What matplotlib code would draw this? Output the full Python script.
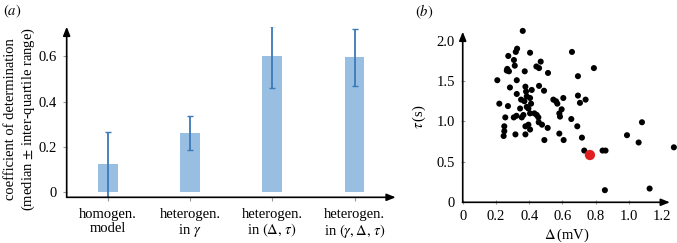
import matplotlib
matplotlib.use("Agg")
import matplotlib.pyplot as plt



MODELS=["homogen.\nmodel","heterogen.\nin $\\gamma$","heterogen.\nin $(\\Delta,\\,\\tau)$","heterogen.\nin $(\\gamma,\\Delta,\\,\\tau)$"]
R2_MEDIAN=[0.125,0.26,0.6,0.595]
R2_LOW=[-0.03,0.185,0.46,0.47]
R2_HIGH=[0.268,0.338,0.735,0.72]

DELTA=[0.361,0.208,0.22,0.256,0.25,0.25,0.246,0.274,0.268,0.278,0.265,0.284,0.272,0.308,0.313,0.319,0.327,
	0.325,0.325,0.307,0.323,0.317,0.351,0.345,0.355,0.365,0.373,0.377,0.381,0.385,0.371,0.385,0.377,0.377,
	0.405,0.415,0.405,0.411,0.395,0.405,0.395,0.405,0.443,0.459,0.469,0.459,0.431,0.445,0.455,0.457,0.477,
	0.491,0.489,0.513,0.511,0.545,0.561,0.569,0.581,0.585,0.581,0.595,0.605,0.607,0.657,0.653,0.693,0.693,
	0.705,0.689,0.717,0.739,0.789,0.731,0.841,0.859,0.855,0.988,1.078,1.058,1.124,1.27]
TAU=[2.12,1.51,1.22,1.05,0.94,0.88,0.82,1.81,1.65,1.62,1.63,1.42,1.19,1.76,1.69,1.86,1.9,
	1.51,1.34,1.05,1.07,0.84,1.27,1.16,1.05,1.08,1.62,1.43,1.37,1.31,1.25,1.18,0.94,0.84,
	1.85,1.39,1.29,1.22,1.16,1.1,0.96,0.9,1.68,1.66,1.74,1.44,1.1,1.08,1.05,0.99,0.96,
	0.77,1.38,1.6,0.92,1.27,1.25,1.22,1.1,1.06,0.85,1.15,1.29,0.77,1.86,1.03,1.56,1.32,
	1.23,0.94,0.8,1.27,1.66,0.64,0.64,0.64,0.15,0.83,0.99,0.74,0.17,0.68]
RED_DELTA=[0.765]
RED_TAU=[0.585]

BAR_COLOR="#98bfe2"
ERR_COLOR="#3a7ab8"



plt.rcParams["font.family"]=["Liberation Serif","DejaVu Serif"]
plt.rcParams["mathtext.fontset"]="stix"
plt.rcParams["font.size"]=10.5
fig=plt.figure(figsize=(6.77,2.43),dpi=100)


def arrow_axes(ax):
	for s in ax.spines.values():
		s.set_visible(False)
	kw=dict(xycoords="axes fraction",textcoords="axes fraction",arrowprops=dict(arrowstyle="-|>,head_length=0.5,head_width=0.2",color="black",lw=1.2,shrinkA=0,shrinkB=0))
	ax.annotate("",xy=(1,0),xytext=(0,0),**kw)
	ax.annotate("",xy=(0,1),xytext=(0,0),**kw)


ax=fig.add_axes([0.0985,0.188,0.486,0.702])
x=list(range(len(MODELS)))
ax.bar(x,R2_MEDIAN,width=0.24,color=BAR_COLOR)
yerr=[[m-l for m,l in zip(R2_MEDIAN,R2_LOW)],[h-m for m,h in zip(R2_MEDIAN,R2_HIGH)]]
ax.errorbar(x,R2_MEDIAN,yerr=yerr,fmt="none",ecolor=ERR_COLOR,elinewidth=1.3,capsize=2.5,capthick=1)
ax.set_xlim(-0.5,3.5)
ax.set_ylim(-0.022,0.73)
ax.set_yticks([0,0.2,0.4,0.6],["0","0.2","0.4","0.6"])
ax.set_xticks(x,MODELS,linespacing=1.05)
ax.tick_params(axis="both",length=3,color="#999999",pad=4)
ax.tick_params(axis="x",pad=5)
ax.set_ylabel("coefficient of determination\n(median $\\pm$ inter-quartile range)",fontsize=10.5,linespacing=1.25)
ax.yaxis.set_label_coords(-0.09,0.46)
arrow_axes(ax)
fig.text(0.004,0.99,"$(a)$",fontsize=10.5,va="top")


ax2=fig.add_axes([0.6835,0.1675,0.306,0.702])
ax2.scatter(DELTA,TAU,s=19,color="black",edgecolors="none",clip_on=False,zorder=3)
ax2.scatter(RED_DELTA,RED_TAU,s=55,color="#e02020",edgecolors="none",clip_on=False,zorder=4)
ax2.set_xlim(0,1.246)
ax2.set_ylim(0,2.11)
ax2.set_xticks([0,0.2,0.4,0.6,0.8,1.0,1.2],["0","0.2","0.4","0.6","0.8","1.0","1.2"])
ax2.set_yticks([0,0.5,1.0,1.5,2.0],["0","0.5","1.0","1.5","2.0"])
ax2.tick_params(axis="both",length=3,color="#999999",direction="inout",pad=4)
ax2.set_xlabel("$\\Delta\\,$(mV)",fontsize=10.5,labelpad=3)
ax2.set_ylabel("$\\tau\\,$(s)",fontsize=10.5,labelpad=6)
arrow_axes(ax2)
fig.text(0.613,0.99,"$(b)$",fontsize=10.5,va="top")

plt.savefig("out.png",dpi=100)
